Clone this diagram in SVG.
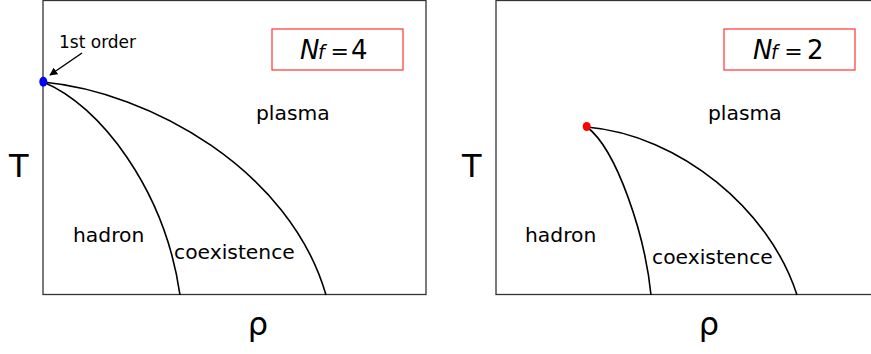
<svg xmlns="http://www.w3.org/2000/svg" width="871" height="354" viewBox="0 0 871 354">
<defs>
<style>
.frame{fill:none;stroke:#333;stroke-width:1.3}
.curve{fill:none;stroke:#000;stroke-width:1.6}
.box{fill:none;stroke:#ff4444;stroke-width:1.3}
.lbl{font-family:"DejaVu Sans",sans-serif;font-size:20.3px;fill:#000}
.axis{font-family:"DejaVu Sans",sans-serif;font-size:32px;fill:#000}
.nf{font-family:"DejaVu Sans",sans-serif;font-size:26px;fill:#000}
.small{font-family:"DejaVu Sans",sans-serif;font-size:17px;fill:#000}
</style>
<marker id="ah" viewBox="0 0 10 10" refX="9" refY="5" markerWidth="8" markerHeight="8" orient="auto" markerUnits="userSpaceOnUse">
<path d="M0,0 L10,5 L0,10 Z" fill="#000"/>
</marker>
</defs>
<rect width="871" height="354" fill="#fff"/>

<g id="panel-left">
<rect class="frame" x="43" y="0.5" width="383" height="294"/>
<text class="axis" x="9" y="177">T</text>
<text class="axis" x="258" y="335" text-anchor="middle">ρ</text>
<g id="label-nf4">
<rect class="box" x="272" y="29" width="131" height="41"/>
<text class="nf" y="59"><tspan x="300" font-style="italic">N</tspan><tspan x="318" font-style="italic" font-size="19">f</tspan><tspan x="330.5" font-size="22">=</tspan><tspan x="351">4</tspan></text>
</g>
<text class="lbl" x="256" y="120">plasma</text>
<text class="lbl" x="73" y="242">hadron</text>
<text class="lbl" x="174" y="259">coexistence</text>
<text class="small" x="59" y="48">1st order</text>
</g>

<g id="panel-right">
<rect class="frame" x="496" y="0.5" width="380" height="294"/>
<text class="axis" x="462" y="177">T</text>
<text class="axis" x="709" y="335" text-anchor="middle">ρ</text>
<g id="label-nf2">
<rect class="box" x="724" y="29" width="131" height="41"/>
<text class="nf" y="59"><tspan x="753" font-style="italic">N</tspan><tspan x="771" font-style="italic" font-size="19">f</tspan><tspan x="784.3" font-size="22">=</tspan><tspan x="807">2</tspan></text>
</g>
<text class="lbl" x="708" y="120">plasma</text>
<text class="lbl" x="525" y="242">hadron</text>
<text class="lbl" x="652" y="264">coexistence</text>
</g>

<g id="connectors">
<path class="curve" d="M43,82 C100,105 165,190 180,295"/>
<path class="curve" d="M43,82 C150,92 290,170 326,295"/>
<path class="curve" d="M587,127 C617,150 645,235 651,295"/>
<path class="curve" d="M587,127 C680,135 770,210 797,295"/>
<line x1="82" y1="53" x2="50" y2="75" stroke="#000" stroke-width="1.5" marker-end="url(#ah)"/>
</g>

<g id="point-nf4">
<ellipse cx="43.3" cy="81.7" rx="4" ry="5" fill="#0000ff"/>
</g>
<g id="point-nf2">
<ellipse cx="586.7" cy="126.5" rx="4" ry="4.5" fill="#ff0000"/>
</g>
</svg>
